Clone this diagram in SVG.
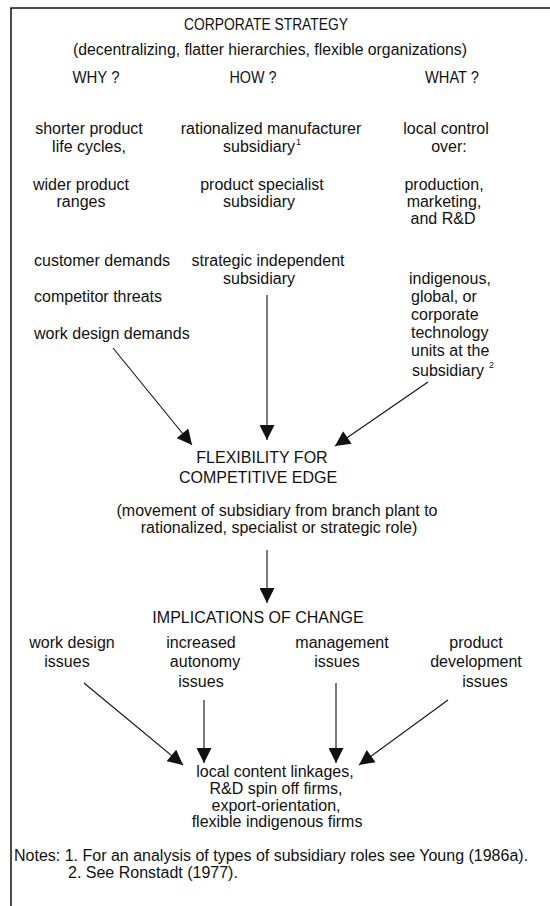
<svg xmlns="http://www.w3.org/2000/svg" width="550" height="906" viewBox="0 0 550 906">
<defs>
<style>
text{font-family:"Liberation Sans",Arial,sans-serif;font-size:16px;fill:#111}
.c{text-anchor:middle}
.sup{font-size:9px}
.frame{stroke:#111;stroke-width:1.5;fill:none}
.conn line{stroke:#111;stroke-width:1.1}
</style>
<marker id="ah" viewBox="0 0 10 10" refX="10" refY="5" markerWidth="16" markerHeight="15" markerUnits="userSpaceOnUse" orient="auto"><path d="M0,0 L10,5 L0,10 z" fill="#111"/></marker>
</defs>
<rect width="550" height="906" fill="#fff"/>
<path class="frame" d="M11,906 V8 H550"/>
<g id="corporate-strategy">
<text class="c" x="266" y="30" textLength="164" lengthAdjust="spacingAndGlyphs">CORPORATE STRATEGY</text>
<text class="c" x="270" y="55" textLength="394" lengthAdjust="spacingAndGlyphs">(decentralizing, flatter hierarchies, flexible organizations)</text>
</g>
<g id="why">
<text class="c" x="96" y="83" textLength="47" lengthAdjust="spacingAndGlyphs">WHY ?</text>
<text class="c" x="89" y="134">shorter product</text>
<text class="c" x="89" y="152">life cycles,</text>
<text class="c" x="81" y="190">wider product</text>
<text class="c" x="81" y="207">ranges</text>
<text x="34" y="266">customer demands</text>
<text x="34" y="302">competitor threats</text>
<text x="34" y="339">work design demands</text>
</g>
<g id="how">
<text class="c" x="253" y="83" textLength="47" lengthAdjust="spacingAndGlyphs">HOW ?</text>
<text class="c" x="271" y="134">rationalized manufacturer</text>
<text class="c" x="259" y="152">subsidiary</text>
<text class="sup" x="296" y="145">1</text>
<text class="c" x="262" y="190">product specialist</text>
<text class="c" x="259" y="207">subsidiary</text>
<text class="c" x="268" y="266">strategic independent</text>
<text class="c" x="259" y="284">subsidiary</text>
</g>
<g id="what">
<text class="c" x="452" y="83" textLength="54" lengthAdjust="spacingAndGlyphs">WHAT ?</text>
<text class="c" x="446" y="134">local control</text>
<text class="c" x="449" y="152">over:</text>
<text class="c" x="444" y="190">production,</text>
<text class="c" x="444" y="207">marketing,</text>
<text class="c" x="443" y="224">and R&amp;D</text>
<text x="409" y="284">indigenous,</text>
<text x="411" y="302">global, or</text>
<text x="411" y="320">corporate</text>
<text x="411" y="338">technology</text>
<text x="411" y="356">units at the</text>
<text x="412" y="376">subsidiary</text>
<text class="sup" x="489" y="368">2</text>
</g>
<g id="flexibility">
<text class="c" x="262" y="463">FLEXIBILITY FOR</text>
<text class="c" x="258" y="483">COMPETITIVE EDGE</text>
<text class="c" x="277" y="516">(movement of subsidiary from branch plant to</text>
<text class="c" x="279" y="533">rationalized, specialist or strategic role)</text>
</g>
<g id="implications">
<text class="c" x="258" y="623">IMPLICATIONS OF CHANGE</text>
</g>
<g id="work-design-issues">
<text class="c" x="72" y="648">work design</text>
<text class="c" x="67" y="667">issues</text>
</g>
<g id="autonomy-issues">
<text class="c" x="201" y="648">increased</text>
<text class="c" x="205" y="667">autonomy</text>
<text class="c" x="201" y="687">issues</text>
</g>
<g id="management-issues">
<text class="c" x="342" y="648">management</text>
<text class="c" x="337" y="667">issues</text>
</g>
<g id="product-development-issues">
<text class="c" x="476" y="648">product</text>
<text class="c" x="476" y="667">development</text>
<text class="c" x="485" y="687">issues</text>
</g>
<g id="outcomes">
<text class="c" x="275" y="777">local content linkages,</text>
<text class="c" x="276" y="794">R&amp;D spin off firms,</text>
<text class="c" x="276" y="811">export-orientation,</text>
<text class="c" x="277" y="827">flexible indigenous firms</text>
</g>
<g id="notes">
<text x="14" y="861">Notes: 1. For an analysis of types of subsidiary roles see Young (1986a).</text>
<text x="68" y="878">2. See Ronstadt (1977).</text>
</g>
<g id="connectors" class="conn">
<line x1="113" y1="348" x2="192" y2="445" marker-end="url(#ah)"/>
<line x1="267" y1="295" x2="267" y2="440" marker-end="url(#ah)"/>
<line x1="428" y1="382" x2="335" y2="446" marker-end="url(#ah)"/>
<line x1="267" y1="550" x2="267" y2="603" marker-end="url(#ah)"/>
<line x1="84" y1="683" x2="183" y2="765" marker-end="url(#ah)"/>
<line x1="204" y1="700" x2="204" y2="763" marker-end="url(#ah)"/>
<line x1="336" y1="683" x2="336" y2="763" marker-end="url(#ah)"/>
<line x1="448" y1="700" x2="359" y2="765" marker-end="url(#ah)"/>
</g>
</svg>
